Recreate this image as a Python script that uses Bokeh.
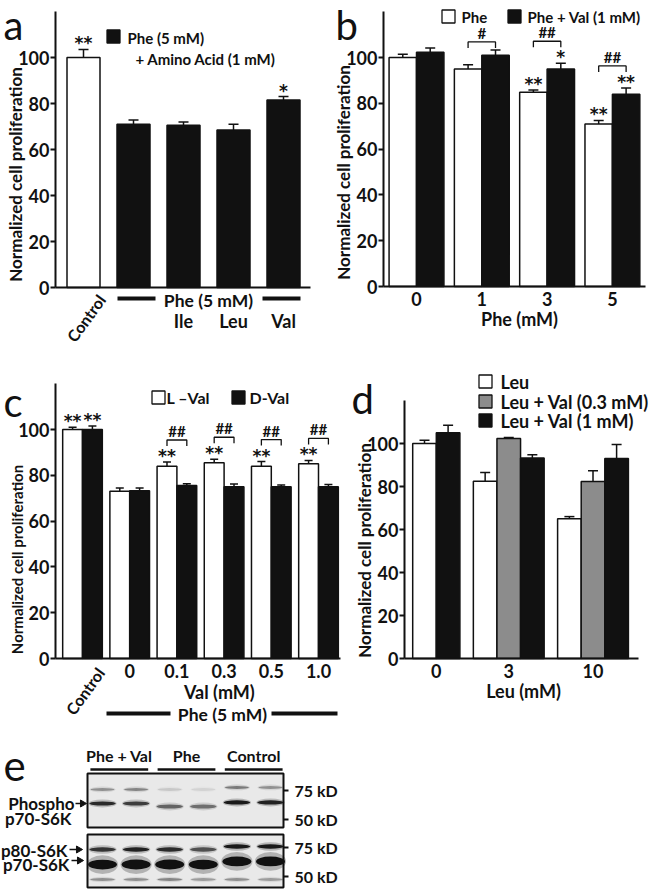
import math
from bokeh.plotting import figure
from bokeh.models import (Range1d, Whisker, ColumnDataSource, FixedTicker,
                          TeeHead, LinearAxis)
from bokeh.layouts import column, row
from bokeh.embed import file_html
from bokeh.resources import INLINE
from bokeh.core.properties import value

FONT = "Lato"
STAR_FONT = "DejaVu Sans"
INK = "#111111"
GREY = "#8c8c8c"

# ---------------- data ----------------
# (a) Phe (5 mM) + amino acid (1 mM)
a_groups = ["Control", "Phe", "Ile", "Leu", "Val"]
a_mean = [100.0, 71.0, 70.5, 68.5, 81.5]
a_err = [3.5, 1.8, 1.5, 2.5, 1.5]
a_sig = ["**", "", "", "", "*"]

# (b) Phe dose, with / without Val (1 mM)
b_phe_mM = ["0", "1", "3", "5"]
b_phe = [100.0, 95.0, 84.8, 71.0]
b_phe_err = [1.4, 1.8, 1.0, 1.5]
b_phe_val = [102.3, 101.0, 95.0, 84.0]
b_phe_val_err = [1.8, 2.3, 2.5, 2.7]
b_phe_sig = ["", "", "**", "**"]
b_phe_val_sig = ["", "", "*", "**"]
b_hash = ["", "#", "##", "##"]

# (c) L-Val vs D-Val under Phe (5 mM)
c_val_mM = ["Control", "0", "0.1", "0.3", "0.5", "1.0"]
c_lval = [100.0, 73.0, 84.0, 85.5, 84.0, 85.0]
c_lval_err = [1.0, 1.5, 1.8, 1.5, 2.0, 1.5]
c_dval = [100.0, 73.3, 75.5, 75.0, 75.0, 75.0]
c_dval_err = [1.5, 1.2, 0.8, 1.2, 0.8, 1.0]
c_lval_sig = ["**", "", "**", "**", "**", "**"]
c_dval_sig = ["**", "", "", "", "", ""]
c_hash = ["", "", "##", "##", "##", "##"]

# (d) Leu dose with Val
d_leu_mM = ["0", "3", "10"]
d_leu = [100.0, 82.5, 65.0]
d_leu_err = [1.5, 4.0, 1.0]
d_val03 = [None, 102.3, 82.3]
d_val03_err = [None, 0.5, 5.0]
d_val1 = [105.0, 93.3, 93.0]
d_val1_err = [3.5, 1.5, 6.5]

# (e) western blot: band density (0-1) per lane and apparent size (kD)
e_groups = ["Phe + Val", "Phe", "Control"]
e_lanes = [1, 2, 3, 4, 5, 6]
e_p_upper_kd = [75.9, 75.9, 75.9, 75.9, 77.6, 77.6]
e_p_upper = [0.35, 0.40, 0.12, 0.08, 0.45, 0.35]
e_p_main_kd = [63.8, 63.8, 61.2, 61.2, 64.7, 64.7]
e_p_main = [0.85, 0.75, 0.55, 0.50, 0.95, 0.90]
e_p80_kd = [73.3, 73.3, 73.3, 73.3, 75.9, 75.9]
e_p80 = [0.80, 0.90, 0.85, 0.65, 0.95, 0.95]
e_p70_kd = [60.3, 60.3, 60.3, 60.3, 63.0, 63.0]
e_p70 = [1.0, 1.0, 1.0, 1.0, 1.0, 1.0]
e_low_kd = [47.4, 47.4, 47.4, 47.4, 47.4, 47.4]
e_low = [0.35, 0.35, 0.40, 0.30, 0.35, 0.30]
e_markers = [75, 50]
e_marker_labels = ["75 kD", "50 kD"]

value_ticks = [0, 20, 40, 60, 80, 100]
YLABEL = "Normalized cell proliferation"


# ---------------- helpers ----------------
class Panel:
    """A figure whose plot frame fills its whole box (image-pixel box),
    with data scales given as image px per data unit."""

    def __init__(self, box, x0, xs, y0, ys, **kw):
        self.x0, self.xs, self.y0, self.ys = x0, xs, y0, ys
        L, T, R, B = box
        p = figure(width=R - L, height=B - T, output_backend="svg",
                   toolbar_location=None,
                   x_range=Range1d(self.X(L), self.X(R)),
                   y_range=Range1d(self.Y(B), self.Y(T)),
                   min_border=0, min_border_left=0, min_border_right=0,
                   min_border_top=0, min_border_bottom=0, **kw)
        p.grid.visible = False
        p.outline_line_color = None
        p.background_fill_color = "white"
        p.border_fill_color = "white"
        self.p = p

    def X(self, ix):
        return (ix - self.x0) / self.xs

    def Y(self, iy):
        return (self.y0 - iy) / self.ys

    def txt(self, ix, iy, text, size=16, align="left", baseline="middle",
            angle=0.0, style="bold", font=FONT):
        self.p.text(x=[self.X(ix)], y=[self.Y(iy)], text=[text], angle=angle,
                    text_align=align, text_baseline=baseline,
                    text_font=value(font), text_font_style=style,
                    text_font_size=f"{size}px", text_color=INK)

    def hline(self, ix0, ix1, iy, width=4.0):
        self.p.segment(x0=[self.X(ix0)], y0=[self.Y(iy)], x1=[self.X(ix1)],
                       y1=[self.Y(iy)], line_width=width, line_color=INK)

    def arrow(self, ix0, ix1, iy):
        self.p.segment(x0=[self.X(ix0)], y0=[self.Y(iy)], x1=[self.X(ix1 - 3)],
                       y1=[self.Y(iy)], line_width=1.5, line_color=INK)
        self.p.scatter([self.X(ix1 - 3)], [self.Y(iy)], marker="triangle",
                       angle=-math.pi / 2, size=7, fill_color=INK,
                       line_color=INK)

    def square(self, ix, iy, fill, size=13):
        self.p.scatter([self.X(ix)], [self.Y(iy)], marker="square", size=size,
                       fill_color=fill, line_color=INK, line_width=1.3)


def style_axes(P, axis_x_img, xticks, xlabels, x_end_img, tick_size=18):
    p = P.p
    for ax in p.xaxis + p.yaxis:
        ax.axis_line_width = 2
        ax.axis_line_color = INK
        ax.major_tick_line_width = 2
        ax.major_tick_line_color = INK
        ax.minor_tick_line_color = None
        ax.major_label_text_font = FONT
        ax.major_label_text_font_style = "bold"
        ax.major_label_text_font_size = f"{tick_size}px"
        ax.major_label_text_color = INK
    ya = p.yaxis[0]
    ya.fixed_location = P.X(axis_x_img)
    ya.ticker = FixedTicker(ticks=value_ticks)
    ya.bounds = (0, 120)
    ya.major_tick_out = 5
    ya.major_tick_in = 0
    ya.major_label_standoff = 1
    xa = p.xaxis[0]
    xa.fixed_location = 0
    xa.ticker = FixedTicker(ticks=xticks)
    xa.major_label_overrides = {t: l for t, l in zip(xticks, xlabels)}
    xa.bounds = (P.X(axis_x_img), P.X(x_end_img))
    xa.major_tick_out = 0
    xa.major_tick_in = 0
    xa.major_label_standoff = 5


def bars(P, xs, vals, errs, fill, width, cap):
    P.p.vbar(x=xs, top=vals, width=width, bottom=0, fill_color=fill,
             line_color=INK, line_width=1.5)
    src = ColumnDataSource(dict(base=xs,
                                upper=[v + e for v, e in zip(vals, errs)],
                                lower=[v - e for v, e in zip(vals, errs)]))
    P.p.add_layout(Whisker(source=src, base="base", upper="upper",
                           lower="lower", line_color=INK, line_width=1.5,
                           upper_head=TeeHead(size=cap, line_width=1.5,
                                              line_color=INK),
                           lower_head=TeeHead(size=cap, line_width=1.5,
                                              line_color=INK)))


def marks(P, xs, tops, texts, size=17):
    keep = [(x, t, s) for x, t, s in zip(xs, tops, texts) if s]
    if not keep:
        return
    lift = 6.0 / P.ys
    P.p.text(x=[k[0] for k in keep], y=[k[1] + lift for k in keep],
             text=[k[2] for k in keep], text_align="center",
             text_baseline="middle", text_font=value(STAR_FONT),
             text_font_style="bold", text_font_size=f"{size}px",
             text_color=INK)


def brackets(P, xl, xr, lo_tops, hi_tops, lo_sig, hi_sig, hashes):
    star_h = 14.0 / P.ys
    tick = 6.0 / P.ys
    bx, by, tx, ty, tt = [], [], [], [], []
    for i, h in enumerate(hashes):
        if not h:
            continue
        y = max(lo_tops[i] + (star_h if lo_sig[i] else 0),
                hi_tops[i] + (star_h if hi_sig[i] else 0)) + 8.0 / P.ys
        bx.append([xl[i], xl[i], xr[i], xr[i]])
        by.append([y - tick, y, y, y - tick])
        tx.append((xl[i] + xr[i]) / 2)
        ty.append(y)
        tt.append(h)
    P.p.multi_line(xs=bx, ys=by, line_color=INK, line_width=1.3)
    P.p.text(x=tx, y=ty, text=tt, text_align="center", text_baseline="bottom",
             text_font=value(FONT), text_font_style="bold",
             text_font_size="15px", text_color=INK)


# ---------------- panel a ----------------
A = Panel(box=(0, 0, 320, 360), x0=83, xs=50.0, y0=287, ys=2.30)
xa_ = list(range(len(a_groups)))
bars(A, xa_, a_mean, a_err, ["white"] + [INK] * 4, 0.66, 10)
marks(A, xa_, [m + e for m, e in zip(a_mean, a_err)], a_sig)
style_axes(A, 55, [], [], 310)
A.square(113, 36, INK)
A.txt(127, 37, "Phe (5 mM)", size=15)
A.txt(135, 58, "+ Amino Acid (1 mM)", size=15)
A.txt(3, 24, "a", size=40, style="normal")
A.txt(15, 174, YLABEL, size=17, align="center", angle=math.pi / 2)
A.txt(101, 296, a_groups[0], size=16, align="right", angle=math.radians(54))
A.hline(117, 155, 298)
A.hline(262, 300, 298)
A.txt(208, 300, "Phe (5 mM)", size=17.5, align="center")
for i in range(2, len(a_groups)):
    A.p.text(x=[xa_[i]], y=[A.Y(320)], text=[a_groups[i]],
             text_align="center", text_baseline="middle",
             text_font=value(FONT), text_font_style="bold",
             text_font_size="18px", text_color=INK)

# ---------------- panel b ----------------
B = Panel(box=(320, 0, 651, 360), x0=416, xs=65.3, y0=286, ys=2.29)
xb = list(range(len(b_phe_mM)))
ob, wb = 0.21, 0.42
xbl = [x - ob for x in xb]
xbr = [x + ob for x in xb]
bars(B, xbl, b_phe, b_phe_err, "white", wb, 10)
bars(B, xbr, b_phe_val, b_phe_val_err, INK, wb, 10)
tb_l = [m + e for m, e in zip(b_phe, b_phe_err)]
tb_r = [m + e for m, e in zip(b_phe_val, b_phe_val_err)]
marks(B, xbl, tb_l, b_phe_sig)
marks(B, xbr, tb_r, b_phe_val_sig)
brackets(B, xbl, xbr, tb_l, tb_r, b_phe_sig, b_phe_val_sig, b_hash)
style_axes(B, 383, xb, b_phe_mM, 645)
B.square(448, 16, "white")
B.txt(461, 16, "Phe", size=15)
B.square(514, 16, INK)
B.txt(527, 16, "Phe + Val (1 mM)", size=15)
B.txt(335, 24, "b", size=40, style="normal")
B.txt(343, 172, YLABEL, size=17, align="center", angle=math.pi / 2)
B.txt(519, 318, "Phe (mM)", size=18, align="center")

# ---------------- panel c ----------------
C = Panel(box=(0, 360, 345, 740), x0=82, xs=47.2, y0=658, ys=2.29)
xc = list(range(len(c_val_mM)))
oc, wc = 0.21, 0.42
xcl = [x - oc for x in xc]
xcr = [x + oc for x in xc]
bars(C, xcl, c_lval, c_lval_err, "white", wc, 8)
bars(C, xcr, c_dval, c_dval_err, INK, wc, 8)
tc_l = [m + e for m, e in zip(c_lval, c_lval_err)]
tc_r = [m + e for m, e in zip(c_dval, c_dval_err)]
marks(C, xcl, tc_l, c_lval_sig)
marks(C, xcr, tc_r, c_dval_sig)
brackets(C, xcl, xcr, tc_l, tc_r, c_lval_sig, c_dval_sig, c_hash)
style_axes(C, 55, xc[1:], c_val_mM[1:], 340)
C.square(158, 397, "white")
C.txt(166, 397, "L \u2013Val", size=16)
C.square(238, 397, INK)
C.txt(249, 397, "D-Val", size=16)
C.txt(3, 401, "c", size=40, style="normal")
C.txt(16, 559, YLABEL, size=15, align="center", angle=math.pi / 2)
C.txt(100, 669, c_val_mM[0], size=16, align="right", angle=math.radians(54))
C.txt(221, 691, "Val  (mM)", size=18, align="center")
C.hline(106, 170, 713)
C.hline(271, 337, 713)
C.txt(222, 714, "Phe (5 mM)", size=17.5, align="center")

# ---------------- panel d ----------------
D = Panel(box=(345, 360, 651, 740), x0=424, xs=23.6, y0=658, ys=2.15)
d_series = [(d_leu, d_leu_err, "white"), (d_val03, d_val03_err, GREY),
            (d_val1, d_val1_err, INK)]
gap = 0.57
cursor = 0.0
d_centers = []
pos = {0: ([], [], []), 1: ([], [], []), 2: ([], [], [])}
for g in range(len(d_leu_mM)):
    present = [s for s in range(3) if d_series[s][0][g] is not None]
    for k, s in enumerate(present):
        pos[s][0].append(cursor + k)
        pos[s][1].append(d_series[s][0][g])
        pos[s][2].append(d_series[s][1][g])
    d_centers.append(round(cursor + (len(present) - 1) / 2, 2))
    cursor += len(present) + gap
for s in range(3):
    bars(D, pos[s][0], pos[s][1], pos[s][2], d_series[s][2], 1.0, 10)
style_axes(D, 404, d_centers, d_leu_mM, 638)
D.square(485, 381, "white")
D.txt(500, 381, "Leu", size=18)
D.square(485, 401, GREY)
D.txt(500, 401, "Leu + Val (0.3 mM)", size=18)
D.square(485, 420, INK)
D.txt(500, 420, "Leu + Val (1 mM)", size=18)
D.txt(351, 398, "d", size=40, style="normal")
D.txt(364, 550, YLABEL, size=17, align="center", angle=math.pi / 2)
D.txt(523, 690, "Leu (mM)", size=18, align="center")

# ---------------- panel e (blot) ----------------
KD_PX = 1.16
E = Panel(box=(0, 740, 651, 892), x0=102 - 33.6, xs=33.6,
          y0=790 + 75 * KD_PX, ys=KD_PX,
          x_axis_location=None, y_axis_location="right")
Y2 = lambda iy: (847 + 75 * KD_PX - iy) / KD_PX
E.p.extra_y_ranges = {"b2": Range1d(Y2(892), Y2(740))}
E.p.add_layout(LinearAxis(y_range_name="b2"), "right")
box_l, box_r = E.X(87), E.X(283)
E.p.quad(left=[box_l], right=[box_r], bottom=[E.Y(827)], top=[E.Y(773)],
         fill_color="#e9e9e9", line_color=INK, line_width=2)
E.p.quad(left=[box_l], right=[box_r], bottom=[Y2(887)], top=[Y2(834)],
         fill_color="#e9e9e9", line_color=INK, line_width=2,
         y_range_name="b2")
for ax, bnds in zip(E.p.yaxis, [(E.Y(827), E.Y(773)), (Y2(887), Y2(834))]):
    ax.fixed_location = box_r
    ax.bounds = bnds
    ax.ticker = FixedTicker(ticks=e_markers)
    ax.major_label_overrides = {m: l for m, l in zip(e_markers, e_marker_labels)}
    ax.axis_line_color = None
    ax.major_tick_line_color = INK
    ax.major_tick_line_width = 2
    ax.major_tick_out = 5
    ax.major_tick_in = 0
    ax.minor_tick_line_color = None
    ax.major_label_standoff = 6
    ax.major_label_text_font = FONT
    ax.major_label_text_font_style = "bold"
    ax.major_label_text_font_size = "16px"
    ax.major_label_text_color = INK


def bands(kd, dens, w, h, rng="default"):
    E.p.ellipse(x=e_lanes, y=kd, width=w * 1.08, height=h * 1.9,
                fill_color=INK, fill_alpha=[d * 0.25 for d in dens],
                line_color=None, y_range_name=rng)
    E.p.ellipse(x=e_lanes, y=kd, width=w, height=h, fill_color=INK,
                fill_alpha=dens, line_color=None, y_range_name=rng)


bands(e_p_upper_kd, e_p_upper, 0.72, 2.6)
bands(e_p_main_kd, e_p_main, 0.78, 3.6)
bands(e_p80_kd, e_p80, 0.78, 3.8, "b2")
bands(e_p70_kd, e_p70, 0.86, 8.5, "b2")
bands(e_low_kd, e_low, 0.74, 2.4, "b2")

E.txt(3, 765, "e", size=42, style="normal")
for gi, name in enumerate(e_groups):
    lx0 = e_lanes[2 * gi] - 0.36
    lx1 = e_lanes[2 * gi + 1] + 0.36
    E.p.text(x=[(lx0 + lx1) / 2], y=[E.Y(755)], text=[name],
             text_align="center", text_baseline="middle",
             text_font=value(FONT), text_font_style="bold",
             text_font_size="16px", text_color=INK)
    E.p.segment(x0=[lx0], y0=[E.Y(769)], x1=[lx1], y1=[E.Y(769)],
                line_width=2.5, line_color=INK)
E.txt(74, 803, "Phospho", size=17, align="right")
E.arrow(75, 85, 803)
E.txt(71, 818, "p70-S6K", size=17, align="right")
E.txt(67, 850, "p80-S6K", size=17, align="right")
E.arrow(69, 81, 849)
E.txt(69, 864, "p70-S6K", size=17, align="right")
E.arrow(71, 82, 860)

layout = column(row(A.p, B.p), row(C.p, D.p), E.p)
open("out.html", "w").write(file_html(layout, INLINE))
